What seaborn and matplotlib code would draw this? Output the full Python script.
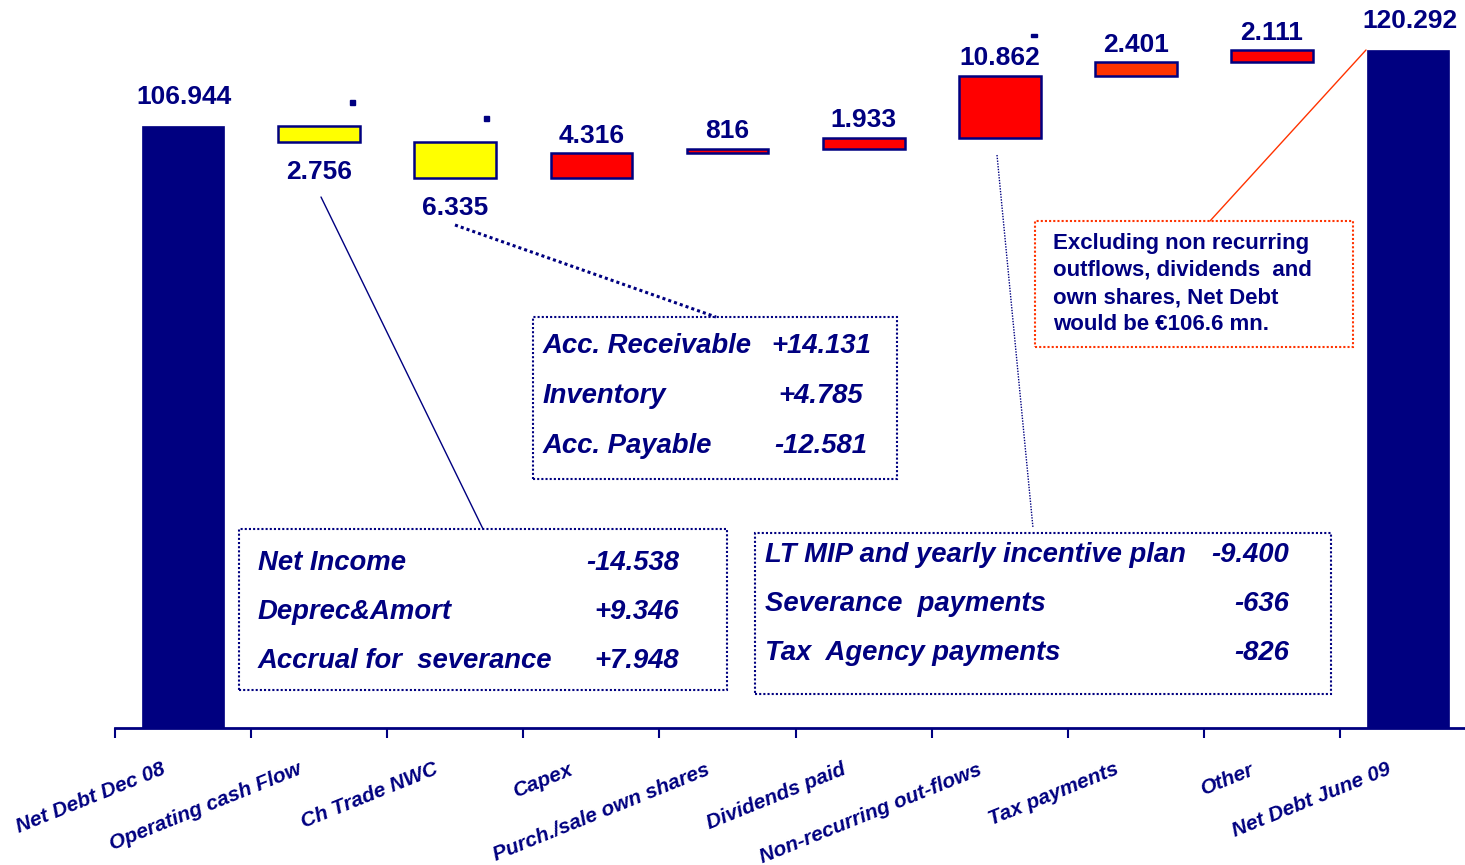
import matplotlib
matplotlib.use("Agg")
import matplotlib.pyplot as plt
import matplotlib.transforms as mtransforms
from matplotlib.patches import Rectangle
from matplotlib.lines import Line2D
import seaborn as sns
import pandas as pd

categories = ["Net Debt Dec 08", "Operating cash Flow", "Ch Trade NWC", "Capex",
              "Purch./sale own shares", "Dividends paid", "Non-recurring out-flows",
              "Tax payments", "Other", "Net Debt June 09"]
values = [106.944, -2.756, -6.335, 4.316, 0.816, 1.933, 10.862, 2.401, 2.111, 120.292]
value_labels = ["106.944", "2.756", "6.335", "4.316", "816", "1.933",
                "10.862", "2.401", "2.111", "120.292"]
is_total = [True, False, False, False, False, False, False, False, False, True]

nwc_items = ["Acc. Receivable", "Inventory", "Acc. Payable"]
nwc_values = ["+14.131", "+4.785", "-12.581"]
ocf_items = ["Net Income", "Deprec&Amort", "Accrual for  severance"]
ocf_values = ["-14.538", "+9.346", "+7.948"]
nr_items = ["LT MIP and yearly incentive plan", "Severance  payments", "Tax  Agency payments"]
nr_values = ["-9.400", "-636", "-826"]
note_lines = ["Excluding non recurring", "outflows, dividends  and",
              "own shares, Net Debt", "would be \u20ac106.6 mn."]

NAVY = "#000080"
YELLOW = "#FFFF00"
RED = "#FF0000"
ORANGE = "#FF3300"
bar_colors = [NAVY, YELLOW, YELLOW, RED, RED, RED, RED, ORANGE, RED, NAVY]

W, H = 1465, 865

# waterfall geometry
bottoms, heights = [], []
level = 0.0
for v, tot in zip(values, is_total):
    if tot:
        bottoms.append(0.0)
        heights.append(v)
        level = v
    else:
        new = level + v
        bottoms.append(min(level, new))
        heights.append(abs(v))
        level = new

df = pd.DataFrame({"category": categories, "height": heights})

sns.set_style("white")
plt.rcParams["font.family"] = ["Liberation Sans", "DejaVu Sans"]

fig = plt.figure(figsize=(W / 100, H / 100), dpi=100)
ax = fig.add_axes([115 / W, (H - 728) / H, (W - 115) / W, 728 / H])

sns.barplot(data=df, x="category", y="height", bottom=bottoms, width=0.6,
            color=NAVY, errorbar=None, ax=ax)

for patch, col, tot in zip(ax.patches, bar_colors, is_total):
    patch.set_facecolor(col)
    patch.set_edgecolor(NAVY)
    patch.set_linewidth(0.5 if tot else 1.8)

ax.set_xlim(-0.48, -0.48 + (W - 115) / 136.4)
ax.set_ylim(1.23, 129.1)

# value labels
for i, (lab, v, tot) in enumerate(zip(value_labels, values, is_total)):
    top = bottoms[i] + heights[i]
    if tot:
        ax.annotate(lab, xy=(i, top), xytext=(1, 12), textcoords="offset points",
                    ha="center", va="bottom", fontsize=19, fontweight="bold", color=NAVY)
    elif v < 0:
        ax.annotate(lab, xy=(i, bottoms[i]), xytext=(0, -13), textcoords="offset points",
                    ha="center", va="top", fontsize=19, fontweight="bold", color=NAVY)
    else:
        ax.annotate(lab, xy=(i, top), xytext=(0, 4), textcoords="offset points",
                    ha="center", va="bottom", fontsize=19, fontweight="bold", color=NAVY)

# axis styling
for side in ["left", "right", "top"]:
    ax.spines[side].set_visible(False)
ax.spines["bottom"].set_color(NAVY)
ax.spines["bottom"].set_linewidth(2)
ax.set_yticks([])
ax.set_xlabel("")
ax.set_ylabel("")
ax.set_xticks([i - 0.5 for i in range(len(categories))], [""] * len(categories))
ax.set_xticks(range(len(categories)), categories, minor=True)
ax.tick_params(axis="x", which="major", bottom=True, direction="out",
               length=7, width=1.5, color=NAVY)
ax.tick_params(axis="x", which="minor", bottom=True, length=0, pad=23)
shift = mtransforms.ScaledTranslation(-0.22, 0, fig.dpi_scale_trans)
for t in ax.get_xticklabels(minor=True):
    t.set_rotation(22)
    t.set_rotation_mode("anchor")
    t.set_ha("right")
    t.set_va("top")
    t.set_fontsize(15)
    t.set_fontweight("bold")
    t.set_fontstyle("italic")
    t.set_color(NAVY)
    t.set_transform(t.get_transform() + shift)


def fx(x):
    return x / W


def fy(y):
    return 1 - y / H


def box(x0, y0, x1, y1, color, lw=1.5):
    fig.add_artist(Rectangle((fx(x0), fy(y1)), fx(x1) - fx(x0), fy(y0) - fy(y1),
                             transform=fig.transFigure, fill=False, edgecolor=color,
                             linewidth=lw, linestyle=(0, (1, 1))))


def line(x0, y0, x1, y1, color, lw=1.0, ls="-"):
    fig.add_artist(Line2D([fx(x0), fx(x1)], [fy(y0), fy(y1)], transform=fig.transFigure,
                          color=color, linewidth=lw, linestyle=ls))


txt = dict(fontsize=19.8, fontweight="bold", fontstyle="italic", color=NAVY, va="center")

# Trade NWC detail
box(533, 317, 897, 479, NAVY)
line(455, 225, 716, 317, NAVY, lw=2.2, ls=(0, (1, 1)))
for k, (a, b) in enumerate(zip(nwc_items, nwc_values)):
    y = 346 + 50 * k
    fig.text(fx(543), fy(y), a, ha="left", **txt)
    fig.text(fx(821), fy(y), b, ha="center", **txt)

# operating cash flow detail
box(239, 529, 727, 690, NAVY)
line(321, 197, 483, 529, NAVY, lw=1.0)
for k, (a, b) in enumerate(zip(ocf_items, ocf_values)):
    y = 563 + 49 * k
    fig.text(fx(258), fy(y), a, ha="left", **txt)
    fig.text(fx(679), fy(y), b, ha="right", **txt)

# non-recurring detail
box(755, 533, 1331, 694, NAVY)
line(997, 155, 1033, 528, NAVY, lw=1.0, ls=(0, (1, 1)))
for k, (a, b) in enumerate(zip(nr_items, nr_values)):
    y = 555 + 49 * k
    fig.text(fx(765), fy(y), a, ha="left", **txt)
    fig.text(fx(1289), fy(y), b, ha="right", **txt)

# note box
box(1035, 221, 1353, 347, ORANGE)
line(1210, 221, 1366, 50, ORANGE, lw=1.0)
for k, s in enumerate(note_lines):
    fig.text(fx(1053), fy(243 + 27.3 * k), s, ha="left", va="center",
             fontsize=16, fontweight="bold", color=NAVY)

# stray sign markers from the source chart
for (mx, my, mw, mh) in [(350, 100, 5, 5), (484, 116, 5, 5), (1031, 34, 6, 3)]:
    fig.add_artist(Rectangle((fx(mx), fy(my + mh)), mw / W, mh / H,
                             transform=fig.transFigure, color=NAVY))

fig.savefig("out.png", dpi=100)
